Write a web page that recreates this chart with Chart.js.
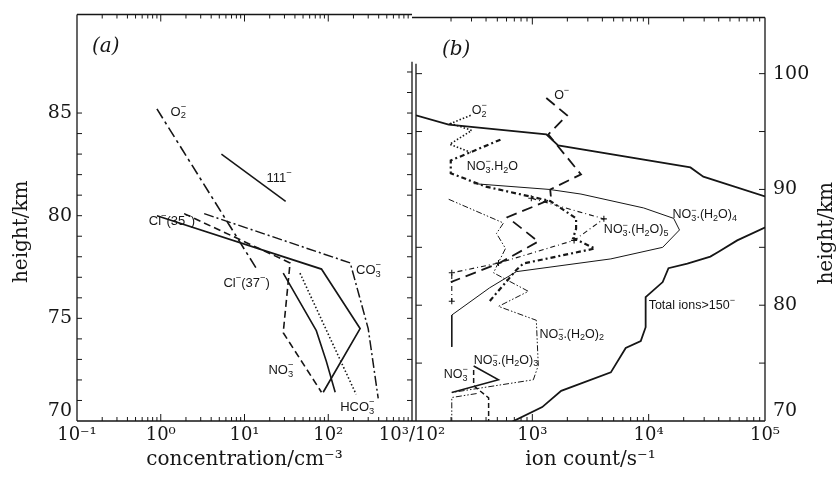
<!DOCTYPE html>
<html>
<head>
<meta charset="utf-8">
<script src="https://cdn.jsdelivr.net/npm/chart.js@4.4.1/dist/chart.umd.min.js"></script>
<style>
  body { margin: 0; background: #fff; }
  #wrap { position: relative; width: 838px; height: 482px; }
  canvas { position: absolute; left: 0; top: 0; }
</style>
</head>
<body>
<div id="wrap">
  <canvas id="panelA" width="838" height="482"></canvas>
  <canvas id="panelB" width="838" height="482"></canvas>
</div>
<script>
const INK = '#161616';
const SERIF = '"DejaVu Serif", serif';
const SANS = '"Liberation Sans", Arial, sans-serif';

//---------------------- DATA, panel (a): concentration/cm^-3 vs height/km

const o2Conc = [0.9, 14];
const o2Height = [85.2, 77.4];
const m111Conc = [5.3, 31];
const m111Height = [83.0, 80.7];
const cl35Conc = [0.9, 83, 240, 87];
const cl35Height = [80.0, 77.4, 74.5, 71.4];
const cl37Conc = [29, 72, 95, 121];
const cl37Height = [77.2, 74.4, 72.9, 71.4];
const no3Conc = [1.9, 35, 29, 83];
const no3Height = [80.1, 77.7, 74.3, 71.4];
const co3Conc = [3.3, 183, 300, 395];
const co3Height = [80.1, 77.7, 74.5, 71.1];
const hco3Conc = [46, 215];
const hco3Height = [77.2, 71.3];

const labelTextA = ['O_2^−', '111^−', 'Cl^−(35^−)', 'Cl^−(37^−)', 'CO_3^−', 'NO_3^−', 'HCO_3^−'];
const labelConcA = [1.31, 18.3, 0.72, 5.6, 215, 19.3, 139];
const labelHeightA = [85.05, 81.8, 79.7, 76.7, 77.33, 72.48, 70.68];

//---------------------- DATA, panel (b): ion count/s^-1 vs height/km

const upperCount = [100, 191, 1318, 1667, 22850, 29500, 100000];
const upperHeight = [96.4, 95.6, 94.75, 93.8, 91.9, 91.1, 89.4];
const totalCount = [600, 1216, 1770, 4730, 6350, 8550, 9420, 9420, 13200, 14800, 21500, 33900, 39600, 57700, 115000];
const totalHeight = [69.7, 71.2, 72.6, 74.2, 76.3, 76.9, 78.1, 80.7, 82.0, 83.2, 83.6, 84.2, 84.6, 85.6, 87.0];
const h2o4Count = [313, 1400, 2620, 9060, 16400, 18400, 13200, 4730, 729, 429, 203, 203];
const h2o4Height = [90.5, 90.0, 89.6, 88.4, 87.5, 86.5, 85.0, 84.0, 82.9, 81.5, 79.15, 76.4];
const o2Count = [295, 199, 301, 195, 295];
const o2CountHeight = [96.4, 95.7, 95.1, 93.9, 93.2];
const oMinusCount = [1318, 1990, 1370, 2620, 1425, 1450, 611, 1125, 512, 199];
const oMinusHeight = [97.9, 96.4, 94.75, 91.3, 90.0, 89.15, 87.6, 85.5, 83.6, 82.0];
const h2o1Count = [532, 199, 199, 396, 1425, 2377, 2377, 2240, 3450, 838, 729, 421];
const h2o1Height = [94.3, 92.5, 91.4, 90.25, 89.0, 87.5, 86.6, 85.8, 84.9, 83.6, 83.05, 80.25];
const h2o5Count = [980, 4120, 2285, 512, 203, 203];
const h2o5Height = [89.24, 87.46, 85.6, 83.64, 82.8, 80.34];
const h2o2Count = [191, 565, 492, 588, 512, 464, 924, 512, 1082, 1125, 1020, 203];
const h2o2Height = [89.15, 87.1, 86.2, 84.9, 83.7, 82.8, 81.2, 79.9, 78.7, 74.8, 73.56, 72.46];
const lowCount = [332, 203, 203];
const lowHeight = [72.37, 72.03, 70];
const h2o3Count = [313, 512, 203];
const h2o3Height = [74.75, 73.56, 72.46];
const no3Count = [313, 313, 421, 421];
const no3CountHeight = [74.4, 73.05, 72.0, 70];

const labelTextB = ['O_2^−', 'O^−', 'NO_3^−.H_2O', 'NO_3^−.(H_2O)_4', 'NO_3^−.(H_2O)_5', 'Total ions>150^−', 'NO_3^−.(H_2O)_2', 'NO_3^−.(H_2O)_3', 'NO_3^−'];
const labelCountB = [301, 1540, 273, 16000, 4120, 10000, 1150, 313, 173];
const labelHeightB = [96.8, 98.1, 92.0, 87.8, 86.5, 80.0, 77.5, 75.25, 74.0];

// top of the double line between the panels, in each panel's own km
const SEP_A = 87.5;
const SEP_B = 100.85;
// outer left ticks of panel (a) stop here
const TOP_TICK_A = 85;

const SUP = {'-1': '⁻¹', '0': '⁰', '1': '¹', '2': '²', '3': '³', '4': '⁴', '5': '⁵'};

//---------------------- HELPERS

function pts(xs, hs) {
    return xs.map((v, i) => ({x: v, y: hs[i]}));
}

function series(label, xs, hs, style) {
    return Object.assign({
        label: label,
        data: pts(xs, hs),
        showLine: true,
        pointRadius: 0,
        borderColor: INK,
        backgroundColor: INK,
        borderWidth: 1.6,
        tension: 0,
        fill: false
    }, style);
}

function decade(v) {
    const e = Math.log10(v);
    return Math.abs(e - Math.round(e)) < 1e-6 ? Math.round(e) : null;
}

function logTicks(scale) {
    const ticks = [];
    const lo = Math.round(Math.log10(scale.min));
    const hi = Math.round(Math.log10(scale.max));
    for (let e = lo; e <= hi; e++) {
        for (let m = 1; m <= 9; m++) {
            const v = m * Math.pow(10, e);
            if (v >= scale.min * 0.999 && v <= scale.max * 1.001) ticks.push({value: v});
        }
    }
    scale.ticks = ticks;
}

function stepTicks(from, to, step) {
    return scale => {
        scale.ticks = [];
        for (let v = from; v <= to; v += step) scale.ticks.push({value: v});
    };
}

// tiny text renderer: _x / ^x (or _{..} / ^{..}); a sup right after a sub is stacked over it
function parseRich(s) {
    const out = [];
    let i = 0;
    while (i < s.length) {
        const c = s[i];
        if (c === '_' || c === '^') {
            let t;
            if (s[i + 1] === '{') {
                const j = s.indexOf('}', i);
                t = s.slice(i + 2, j);
                i = j + 1;
            } else {
                t = s[i + 1];
                i += 2;
            }
            out.push({t: t, m: c === '_' ? 'sub' : 'sup'});
        } else {
            let j = i;
            while (j < s.length && s[j] !== '_' && s[j] !== '^') j++;
            out.push({t: s.slice(i, j), m: 'n'});
            i = j;
        }
    }
    return out;
}

function drawRich(ctx, text, x, y, size, family, style) {
    const items = [];
    let cx = 0;
    let last = null;
    for (const s of parseRich(text)) {
        const fs = s.m === 'n' ? size : size * 0.72;
        ctx.font = `${style || ''} ${fs}px ${family}`;
        const w = ctx.measureText(s.t).width;
        let x0 = cx;
        if (last && s.m !== 'n' && last.m !== 'n' && last.m !== s.m) x0 = last.x;
        last = {t: s.t, m: s.m, x: x0, fs: fs};
        items.push(last);
        cx = Math.max(cx, x0 + w);
    }
    ctx.textBaseline = 'middle';
    ctx.textAlign = 'left';
    items.forEach(it => {
        ctx.font = `${style || ''} ${it.fs}px ${family}`;
        let dy = 0;
        if (it.m === 'sub') dy = size * 0.3;
        if (it.m === 'sup') dy = -size * 0.38;
        ctx.fillText(it.t, x + it.x, y + dy);
    });
}

//---------------------- PLUGINS

const frame = {
    id: 'frame',
    afterDraw(chart, args, opts) {
        const {ctx, chartArea: a, scales: {x, y}} = chart;
        ctx.save();
        ctx.strokeStyle = INK;
        ctx.lineWidth = 1.3;
        ctx.beginPath();
        ctx.moveTo(a.left - opts.extendLeft, a.top);
        ctx.lineTo(a.right, a.top);
        ctx.moveTo(a.left - opts.extendLeft, a.bottom);
        ctx.lineTo(a.right, a.bottom);
        // outer side
        const outer = opts.side === 'left' ? a.left : a.right;
        ctx.moveTo(outer, a.top);
        ctx.lineTo(outer, a.bottom);
        // separator side
        const sep = opts.side === 'left' ? a.right : a.left;
        const sepTop = y.getPixelForValue(opts.sepTop);
        ctx.moveTo(sep, sepTop);
        ctx.lineTo(sep, a.bottom);
        ctx.stroke();

        ctx.lineWidth = 1;
        ctx.beginPath();
        x.ticks.forEach(t => {
            const px = x.getPixelForValue(t.value);
            if (px < a.left + 1 || px > a.right - 1) return;
            const len = decade(t.value) === null ? 4 : 7;
            ctx.moveTo(px, a.bottom);
            ctx.lineTo(px, a.bottom - len);
            ctx.moveTo(px, a.top);
            ctx.lineTo(px, a.top + len);
        });
        const dir = opts.side === 'left' ? 1 : -1;
        y.ticks.forEach(t => {
            const py = y.getPixelForValue(t.value);
            if (py < a.top + 1 || py > a.bottom - 1) return;
            if (t.value <= opts.outerTop) {
                ctx.moveTo(outer, py);
                ctx.lineTo(outer + dir * opts.tickLen, py);
            }
            if (t.value <= opts.sepTop) {
                ctx.moveTo(sep, py);
                ctx.lineTo(sep - dir * opts.tickLen, py);
            }
        });
        ctx.stroke();
        ctx.restore();
    }
};

const notes = {
    id: 'notes',
    afterDatasetsDraw(chart, args, opts) {
        const {ctx, chartArea: a, scales: {x, y}} = chart;
        ctx.save();
        ctx.fillStyle = INK;
        opts.text.forEach((t, i) => {
            drawRich(ctx, t, x.getPixelForValue(opts.at[i]), y.getPixelForValue(opts.height[i]), opts.size, SANS);
        });
        drawRich(ctx, opts.tag[0], x.getPixelForValue(opts.tag[1]), y.getPixelForValue(opts.tag[2]), 20, SERIF, 'italic');
        // vertical axis title, read bottom to top on both sides
        ctx.translate(opts.title.x === 'left' ? a.left - 55 : a.right + 62, (a.top + a.bottom) / 2 + 14);
        ctx.rotate(-Math.PI / 2);
        ctx.font = `20px ${SERIF}`;
        ctx.textAlign = 'center';
        ctx.textBaseline = 'middle';
        ctx.fillText(opts.title.text, 0, 0);
        ctx.restore();
    }
};

function xScale(min, max, title, labelFn) {
    return {
        type: 'logarithmic',
        min: min,
        max: max,
        afterBuildTicks: logTicks,
        afterFit: s => { s.height = 61; },
        grid: {display: false, drawTicks: false},
        border: {display: false},
        ticks: {autoSkip: false, maxRotation: 0, padding: 4, color: INK, font: {family: SERIF, size: 18}, callback: labelFn},
        title: {display: true, text: title, color: INK, font: {family: SERIF, size: 20}, padding: {top: 0, bottom: 10}}
    };
}

function yScale(position, max, step, labelEvery, width, pad) {
    return {
        type: 'linear',
        position: position,
        min: 70,
        max: max,
        afterBuildTicks: stepTicks(70, Math.floor(max), step),
        afterFit: s => { s.width = width; },
        grid: {display: false, drawTicks: false},
        border: {display: false},
        ticks: {
            autoSkip: false,
            padding: pad,
            color: INK,
            font: {family: SERIF, size: 19, lineHeight: 1.0},
            callback: v => v % labelEvery ? '' : (v === 70 ? ['70', ''] : String(v))
        }
    };
}

const common = {
    responsive: false,
    animation: false,
    devicePixelRatio: 1,
    events: []
};

//---------------------- PANEL (a)

new Chart(document.getElementById('panelA').getContext('2d'), {
    type: 'scatter',
    data: {
        datasets: [
            series('O2-', o2Conc, o2Height, {borderDash: [11, 4, 3, 4]}),
            series('111-', m111Conc, m111Height, {borderWidth: 1.5}),
            series('Cl-(35-)', cl35Conc, cl35Height, {borderWidth: 1.7}),
            series('Cl-(37-)', cl37Conc, cl37Height, {borderWidth: 1.6}),
            series('NO3-', no3Conc, no3Height, {borderDash: [7, 4]}),
            series('CO3-', co3Conc, co3Height, {borderWidth: 1.5, borderDash: [10, 3, 2, 3]}),
            series('HCO3-', hco3Conc, hco3Height, {borderDash: [1.5, 2.2]})
        ]
    },
    options: Object.assign({}, common, {
        layout: {padding: {left: 0, top: 13, right: 426, bottom: 0}},
        scales: {
            x: xScale(0.1, 1000, 'concentration/cm⁻³', v => {
                const e = decade(v);
                if (e === null) return '';
                return e === 3 ? '10³/10²' : '10' + SUP[e];
            }),
            y: yScale('left', 89.8, 1, 5, 77, 5)
        },
        plugins: {
            legend: {display: false},
            tooltip: {enabled: false},
            frame: {side: 'left', sepTop: SEP_A, outerTop: TOP_TICK_A, tickLen: 5, extendLeft: 0},
            notes: {
                text: labelTextA, at: labelConcA, height: labelHeightA, size: 13,
                tag: ['(a)', 0.151, 88.25],
                title: {x: 'left', text: 'height/km'}
            }
        }
    }),
    plugins: [frame, notes]
});

//---------------------- PANEL (b)

new Chart(document.getElementById('panelB').getContext('2d'), {
    type: 'scatter',
    data: {
        datasets: [
            series('upper', upperCount, upperHeight, {borderWidth: 1.8}),
            series('Total ions > 150-', totalCount, totalHeight, {borderWidth: 1.8}),
            series('NO3-.(H2O)4', h2o4Count, h2o4Height, {borderWidth: 1}),
            series('O2-', o2Count, o2CountHeight, {borderDash: [1.5, 2]}),
            series('O-', oMinusCount, oMinusHeight, {borderWidth: 1.8, borderDash: [11, 6]}),
            series('NO3-.H2O', h2o1Count, h2o1Height, {borderWidth: 2.2, borderDash: [5, 3, 2, 3]}),
            series('NO3-.(H2O)5', h2o5Count, h2o5Height, {borderWidth: 1.1, borderDash: [5, 3, 1, 3], pointRadius: 3, pointStyle: 'cross'}),
            series('NO3-.(H2O)2', h2o2Count, h2o2Height, {borderWidth: 1, borderDash: [6, 2, 1.5, 2, 1.5, 2]}),
            series('NO3-.(H2O)2 low', lowCount, lowHeight, {borderWidth: 1, borderDash: [6, 2, 1.5, 2, 1.5, 2]}),
            series('NO3-.(H2O)3', h2o3Count, h2o3Height, {borderWidth: 1.5}),
            series('NO3-', no3Count, no3CountHeight, {borderWidth: 1.5, borderDash: [5, 3]})
        ]
    },
    options: Object.assign({}, common, {
        layout: {padding: {left: 416, top: 13, right: 0, bottom: 0}},
        scales: {
            x: xScale(100, 100000, 'ion count/s⁻¹', v => {
                const e = decade(v);
                if (e === null || e === 2) return '';
                return '10' + SUP[e];
            }),
            y: yScale('right', 104.85, 5, 10, 73, 8)
        },
        plugins: {
            legend: {display: false},
            tooltip: {enabled: false},
            frame: {side: 'right', sepTop: SEP_B, outerTop: 100, tickLen: 6, extendLeft: 4},
            notes: {
                text: labelTextB, at: labelCountB, height: labelHeightB, size: 12.5,
                tag: ['(b)', 167, 102.1],
                title: {x: 'right', text: 'height/km'}
            }
        }
    }),
    plugins: [frame, notes]
});
</script>
</body>
</html>
